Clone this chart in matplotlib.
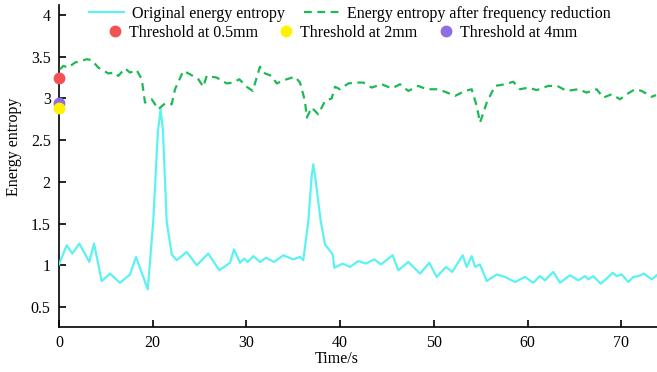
import matplotlib
matplotlib.use("Agg")
import matplotlib.pyplot as plt
from matplotlib.lines import Line2D
from matplotlib.ticker import FuncFormatter

plt.rcParams['font.family'] = ['Liberation Serif', 'DejaVu Serif']
plt.rcParams['mathtext.fontset'] = 'stix'

# ---- data ----
orig_t = [10.00, 10.82, 11.42, 12.17, 13.23, 13.74, 14.56, 15.44, 16.51, 17.58, 18.22, 19.47,
          20.06, 20.55, 20.85, 21.10, 21.49, 22.03, 22.56, 23.63, 24.70, 25.93, 27.11, 28.25,
          28.68, 29.32, 29.78, 30.14, 30.74, 31.45, 32.09, 32.95, 33.94, 35.01, 35.72, 36.07,
          36.61, 36.95, 37.14, 37.35, 37.93, 38.39, 39.21, 39.38, 40.28, 41.06, 41.94, 42.73,
          43.65, 44.36, 45.61, 46.21, 47.28, 48.53, 49.52, 50.31, 51.30, 51.97, 53.08, 53.51,
          54.04, 54.40, 54.93, 55.65, 56.71, 57.60, 58.67, 59.73, 60.62, 61.33, 61.87, 62.75,
          63.47, 64.53, 65.42, 66.14, 66.49, 67.02, 67.81, 68.45, 69.09, 69.52, 70.05, 70.76,
          71.29, 71.82, 72.43, 73.25, 73.79]
orig_v = [1.01, 1.24, 1.14, 1.26, 1.04, 1.26, 0.81, 0.90, 0.79, 0.89, 1.10, 0.71,
          1.53, 2.60, 2.87, 2.60, 1.53, 1.13, 1.06, 1.16, 1.00, 1.14, 0.94, 1.03,
          1.19, 1.03, 1.08, 1.04, 1.11, 1.04, 1.09, 1.04, 1.12, 1.07, 1.10, 1.06,
          1.53, 2.05, 2.21, 2.05, 1.53, 1.25, 1.13, 0.97, 1.02, 0.98, 1.05, 1.02,
          1.07, 1.01, 1.12, 0.94, 1.04, 0.90, 1.03, 0.86, 0.98, 0.92, 1.12, 0.98,
          1.11, 0.98, 1.01, 0.81, 0.89, 0.86, 0.80, 0.86, 0.79, 0.87, 0.82, 0.92,
          0.79, 0.88, 0.82, 0.87, 0.83, 0.87, 0.78, 0.84, 0.91, 0.87, 0.89, 0.80,
          0.86, 0.87, 0.90, 0.83, 0.88]

red_t = [10.11, 10.46, 10.99, 11.71, 12.96, 13.49, 14.19, 15.26, 15.98, 16.33, 17.04, 17.58,
         18.29, 18.83, 19.18, 19.89, 20.25, 20.60, 21.31, 22.03, 22.38, 23.27, 23.98, 24.87,
         25.40, 25.76, 26.83, 27.90, 28.60, 29.24, 30.03, 30.67, 31.45, 31.98, 32.70, 33.23,
         34.30, 35.19, 35.72, 36.25, 36.44, 36.97, 37.67, 38.39, 39.10, 39.46, 39.99, 40.88,
         41.77, 42.48, 43.37, 44.44, 45.51, 46.39, 47.28, 48.35, 49.24, 50.31, 51.20, 52.26,
         53.33, 54.04, 54.58, 54.93, 55.65, 56.53, 57.60, 58.48, 59.20, 60.09, 60.98, 62.22,
         63.18, 64.18, 65.42, 66.32, 67.38, 68.09, 68.99, 69.87, 70.59, 71.47, 72.18, 73.25,
         73.71]
red_v = [3.35, 3.39, 3.37, 3.43, 3.47, 3.46, 3.37, 3.30, 3.31, 3.27, 3.36, 3.31,
         3.34, 3.23, 2.95, 2.99, 2.93, 2.87, 2.94, 2.93, 3.11, 3.33, 3.29, 3.23,
         3.14, 3.27, 3.25, 3.18, 3.19, 3.23, 3.14, 3.09, 3.38, 3.30, 3.27, 3.18,
         3.23, 3.26, 3.19, 2.97, 2.77, 2.89, 2.81, 2.97, 3.00, 3.14, 3.11, 3.18,
         3.19, 3.19, 3.13, 3.17, 3.12, 3.17, 3.09, 3.15, 3.11, 3.11, 3.08, 3.03,
         3.09, 3.11, 2.91, 2.71, 2.95, 3.15, 3.17, 3.20, 3.11, 3.13, 3.10, 3.15,
         3.15, 3.09, 3.11, 3.07, 3.11, 3.01, 3.05, 2.99, 3.05, 3.11, 3.09, 3.02,
         3.04]

thr_labels = ['Threshold at 0.5mm', 'Threshold at 2mm', 'Threshold at 4mm']
thr_values = [3.25, 2.89, 2.94]
thr_colors = ['#F25252', '#FFF200', '#8E6FE0']
thr_time = 10.0

xticks = [10, 20, 30, 40, 50, 60, 70]
xtick_labels = ['0', '20', '30', '40', '50', '60', '70']
yticks = [0.5, 1, 1.5, 2, 2.5, 3, 3.5, 4]

# ---- figure ----
fig = plt.figure(figsize=(6.57, 3.72), dpi=100)
ax = fig.add_axes([59/657, 1-327/372, 598/657, 322/372])

ax.plot(orig_t, orig_v, color='#5CF2F2', lw=1.6, label='Original energy entropy', zorder=3)
ax.plot(red_t, red_v, color='#1DB954', lw=1.6, ls=(0, (3.5, 2.5)),
        label='Energy entropy after frequency reduction', zorder=3)
order = [0, 2, 1]
for i in order:
    ax.plot([thr_time], [thr_values[i]], 'o', color=thr_colors[i], ms=7.5,
            clip_on=False, zorder=5)

ax.set_xlim(10, 73.82)
ax.set_ylim(0.26, 4.12)
ax.set_xticks(xticks)
ax.set_xticklabels(xtick_labels)
ax.set_yticks(yticks)
ax.yaxis.set_major_formatter(FuncFormatter(lambda v, p: f'{v:g}'))
for s in ['top', 'right']:
    ax.spines[s].set_visible(False)
for s in ['left', 'bottom']:
    ax.spines[s].set_linewidth(1.2)
ax.tick_params(direction='in', length=5, width=1.2, labelsize=11.5, pad=6)
ax.set_xlabel('Time/s', fontsize=11.5)
ax.set_ylabel('Energy entropy', fontsize=11.5)
ax.xaxis.set_label_coords((337-59)/598, -(351-327)/322)
ax.yaxis.set_label_coords(-(59-22)/598, (327-147)/322)

h1 = [Line2D([], [], color='#5CF2F2', lw=1.6),
      Line2D([], [], color='#1DB954', lw=1.6, ls=(0, (3.5, 2.5)))]
l1 = ['Original energy entropy', 'Energy entropy after frequency reduction']
leg1 = fig.legend(h1, l1, ncol=2, loc='center', bbox_to_anchor=(350/657, 1-14/372),
                  frameon=False, fontsize=11.5, handlelength=2.2, columnspacing=1.2,
                  handletextpad=0.5, borderpad=0)
h2 = [Line2D([], [], marker='o', color=c, ls='none', ms=7.5) for c in thr_colors]
leg2 = fig.legend(h2, thr_labels, ncol=3, loc='center', bbox_to_anchor=(342/657, 1-33/372),
                  frameon=False, fontsize=11.5, handlelength=1.0, columnspacing=1.25,
                  handletextpad=0.4, borderpad=0)

fig.savefig('out.png', dpi=100)
